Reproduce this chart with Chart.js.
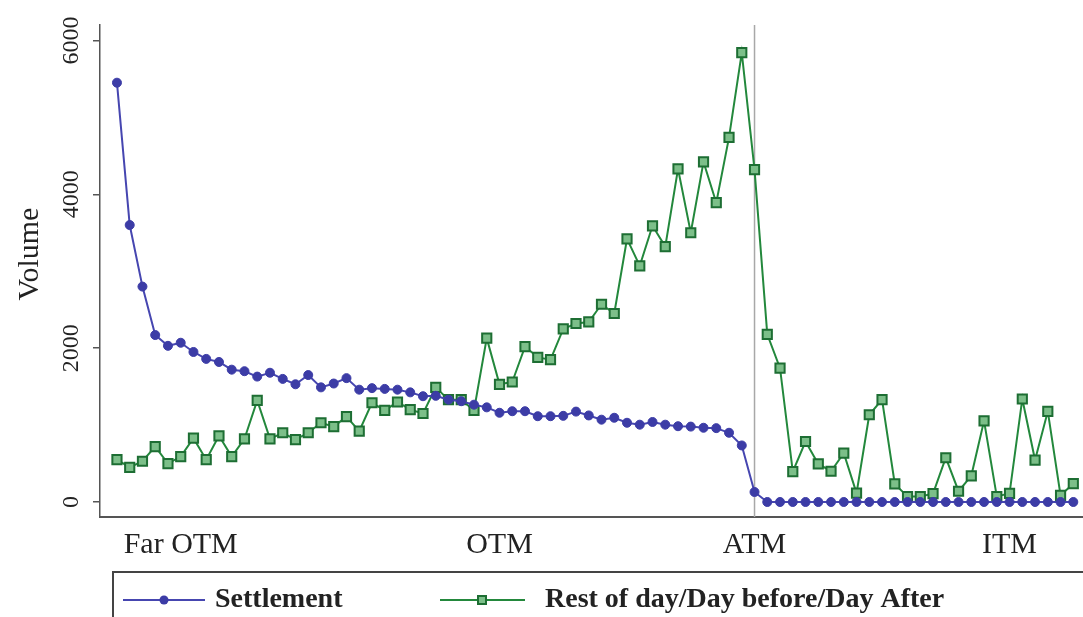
<!DOCTYPE html>
<html><head><meta charset="utf-8">
<script src="https://cdn.jsdelivr.net/npm/chart.js@4/dist/chart.umd.min.js"></script>
<style>html,body{margin:0;padding:0;background:#fff;overflow:hidden}#wrap{position:relative;width:1083px;height:617px}</style>
</head><body><div id="wrap"><canvas id="c"></canvas></div>
<script>
const settlement = [5450,3600,2800,2170,2030,2070,1950,1860,1820,1720,
 1700,1630,1680,1600,1530,1650,1490,1540,1610,1460,
 1480,1470,1460,1425,1375,1380,1330,1310,1265,1230,
 1160,1180,1180,1115,1115,1120,1175,1125,1070,1095,
 1030,1005,1040,1005,985,980,965,960,900,735,
 130,0,0,0,0,0,0,0,0,0,
 0,0,0,0,0,0,0,0,0,0,
 0,0,0,0,0,0];
const restOfDay = [550,450,530,720,500,590,830,550,860,590,
 820,1320,820,900,810,900,1030,980,1110,920,
 1290,1190,1300,1200,1150,1490,1330,1330,1190,2130,
 1530,1560,2020,1880,1850,2250,2320,2340,2570,2450,
 3420,3070,3590,3320,4330,3500,4420,3890,4740,5840,
 4320,2180,1740,395,786,495,400,634,115,1134,
 1330,235,70,70,110,575,140,340,1055,70,
 113,1339,545,1178,85,240];
const tickPositions = [5, 30, 50, 70];
const tickLabels = ['Far OTM', 'OTM', 'ATM', 'ITM'];
const yTicks = [0, 2000, 4000, 6000];
const atmIndex = 50;
const seriesNames = ['Settlement', 'Rest of day/Day before/Day After'];
const yTitle = 'Volume';

const SERIF = "'Liberation Serif', 'DejaVu Serif', serif";
const BLUE = '#4646b0', BLUE_PT = '#3c3ca6';
const GREEN = '#23883c', GREEN_BORDER = '#1d6e33', GREEN_FILL = '#7cbf89';

const toXY = arr => arr.map((v, i) => ({x: i, y: v}));

const decor = {
  id: 'decor',
  beforeDatasetsDraw(chart) {
    const {ctx, chartArea, scales} = chart;
    const x = scales.x.getPixelForValue(atmIndex);
    ctx.save();
    ctx.strokeStyle = '#a8a8a8';
    ctx.lineWidth = 1.5;
    ctx.beginPath();
    ctx.moveTo(x, chartArea.top);
    ctx.lineTo(x, chartArea.bottom);
    ctx.stroke();
    ctx.restore();
  },
  afterDraw(chart) {
    const {ctx, scales} = chart;
    const y = scales.y;
    ctx.save();
    ctx.fillStyle = '#222';
    ctx.font = '24px ' + SERIF;
    ctx.textAlign = 'center';
    ctx.textBaseline = 'middle';
    yTicks.forEach(v => {
      const py = y.getPixelForValue(v);
      ctx.save();
      ctx.translate(72, py);
      ctx.rotate(-Math.PI / 2);
      ctx.fillText(String(v), 0, 0);
      ctx.restore();
    });
    ctx.font = '30px ' + SERIF;
    ctx.save();
    ctx.translate(30, 254);
    ctx.rotate(-Math.PI / 2);
    ctx.fillText(yTitle, 0, 0);
    ctx.restore();
    // legend
    ctx.strokeStyle = '#444';
    ctx.lineWidth = 2;
    ctx.strokeRect(113, 572, chart.width, 100);
    const ly = 600;
    const ds = chart.data.datasets;
    ctx.strokeStyle = ds[0].borderColor; ctx.lineWidth = 2;
    ctx.beginPath(); ctx.moveTo(123, ly); ctx.lineTo(205, ly); ctx.stroke();
    ctx.fillStyle = ds[0].pointBackgroundColor;
    ctx.beginPath(); ctx.arc(164, ly, 4.5, 0, Math.PI * 2); ctx.fill();
    ctx.strokeStyle = ds[1].borderColor; ctx.lineWidth = 2;
    ctx.beginPath(); ctx.moveTo(440, ly); ctx.lineTo(525, ly); ctx.stroke();
    ctx.fillStyle = ds[1].pointBackgroundColor;
    ctx.strokeStyle = ds[1].pointBorderColor;
    ctx.fillRect(478, ly - 4, 8, 8);
    ctx.strokeRect(478, ly - 4, 8, 8);
    ctx.fillStyle = '#222';
    ctx.font = 'bold 28px ' + SERIF;
    ctx.textAlign = 'left';
    ctx.fillText(ds[0].label, 215, ly);
    ctx.fillText(ds[1].label, 545, ly);
    ctx.restore();
  }
};

new Chart(document.getElementById('c'), {
  type: 'line',
  data: {
    datasets: [
      {
        label: seriesNames[0],
        data: toXY(settlement),
        borderColor: BLUE,
        borderWidth: 2,
        pointStyle: 'circle',
        pointRadius: 4.5,
        pointBackgroundColor: BLUE_PT,
        pointBorderColor: BLUE_PT,
        pointBorderWidth: 1,
        tension: 0
      },
      {
        label: seriesNames[1],
        data: toXY(restOfDay),
        borderColor: GREEN,
        borderWidth: 2,
        pointStyle: 'rect',
        pointRadius: 6.5,
        pointBackgroundColor: GREEN_FILL,
        pointBorderColor: GREEN_BORDER,
        pointBorderWidth: 2,
        tension: 0
      }
    ]
  },
  options: {
    responsive: true,
    maintainAspectRatio: false,
    animation: false,
    devicePixelRatio: 1,
    layout: {autoPadding: false, padding: {top: 25, left: 0, right: 0, bottom: 0}},
    plugins: {legend: {display: false}, tooltip: {enabled: false}},
    scales: {
      x: {
        type: 'linear',
        min: -1.33,
        max: 75.76,
        afterFit: s => { s.height = 100; },
        afterBuildTicks: s => { s.ticks = tickPositions.map(v => ({value: v})); },
        ticks: {
          callback: v => tickLabels[tickPositions.indexOf(v)],
          font: {family: SERIF, size: 30},
          color: '#222',
          padding: 10,
          maxRotation: 0,
          autoSkip: false
        },
        grid: {display: false, drawTicks: false},
        border: {display: true, color: '#555', width: 2}
      },
      y: {
        type: 'linear',
        min: -195,
        max: 6200,
        afterFit: s => { s.width = 100; },
        afterBuildTicks: s => { s.ticks = yTicks.map(v => ({value: v})); },
        ticks: {display: false},
        grid: {drawOnChartArea: false, drawTicks: true, tickLength: 7, color: '#555', lineWidth: 1.5},
        border: {display: true, color: '#555', width: 1.5}
      }
    }
  },
  plugins: [decor]
});
</script></body></html>
